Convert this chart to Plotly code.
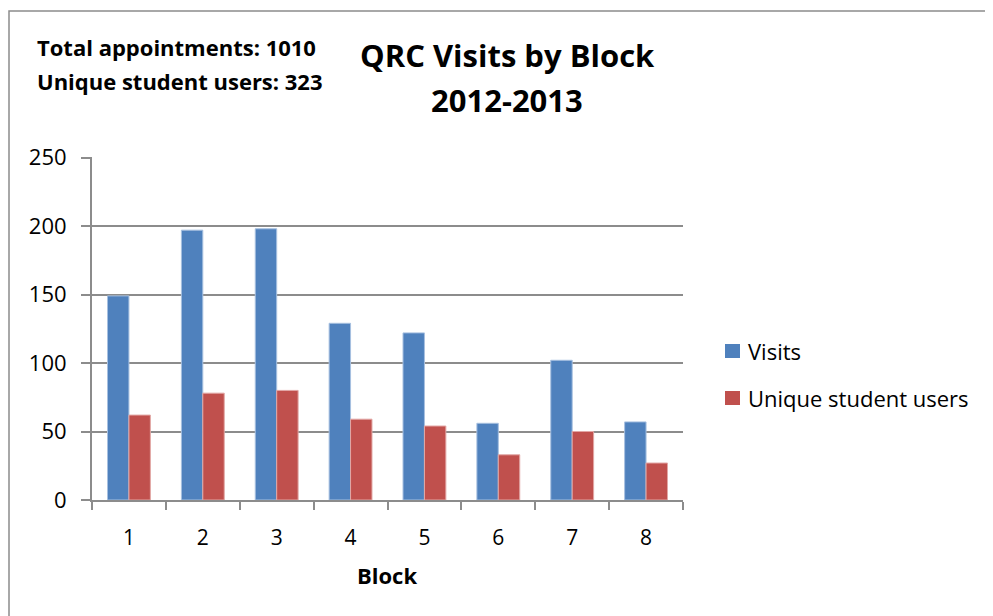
import plotly.graph_objects as go

blocks = ["1", "2", "3", "4", "5", "6", "7", "8"]
visits = [149, 197, 198, 129, 122, 56, 102, 57]
unique_users = [62, 78, 80, 59, 54, 33, 50, 27]
y_ticks = [0, 50, 100, 150, 200, 250]
series_names = ["Visits", "Unique student users"]
series_colors = ["#4F81BD", "#C0504D"]
edge_colors = ["#A7C0E0", "#E2A7A5"]

FONT = "'Open Sans', sans-serif"
GRAY = "#8C8C8C"

# plot-area geometry in page pixels (page has an 8px body margin)
PL, PR, PT, PB = 92, 683, 157, 500
PW, PH = PR - PL, PB - PT


def px(x):
    return (x - PL) / PW


def py(y):
    return (PB - y) / PH


fig = go.Figure()
for name, vals, col, edge in zip(series_names, [visits, unique_users], series_colors, edge_colors):
    fig.add_trace(go.Bar(x=blocks, y=vals, name=name, marker_color=col,
                         marker_line=dict(color=edge, width=1), showlegend=False))

annotations = [
    dict(text="<b>QRC Visits by Block</b>", x=px(507), y=py(55)),
    dict(text="<b>2012-2013</b>", x=px(507), y=py(100)),
]
for a in annotations:
    a.update(xref="paper", yref="paper", xanchor="center", yanchor="middle",
             showarrow=False, font=dict(size=31, family=FONT, color="black"))

for txt, yy in [("<b>Total appointments: 1010</b>", 47), ("<b>Unique student users: 323</b>", 81)]:
    annotations.append(dict(text=txt, x=px(35), y=py(yy), xref="paper", yref="paper",
                            xanchor="left", yanchor="middle", showarrow=False,
                            font=dict(size=22, family=FONT, color="black")))

annotations.append(dict(text="<b>Block</b>", x=px(387), y=py(575), xref="paper", yref="paper",
                        xanchor="center", yanchor="middle", showarrow=False,
                        font=dict(size=22, family=FONT, color="black")))

shapes = [dict(type="rect", xref="paper", yref="paper", x0=px(9), x1=px(1100), y0=py(700), y1=py(11),
               line=dict(color=GRAY, width=1.5), fillcolor="rgba(0,0,0,0)", layer="below")]

# custom legend
for i, (name, col) in enumerate(zip(series_names, series_colors)):
    cy = 351 + 47 * i
    shapes.append(dict(type="rect", xref="paper", yref="paper", x0=px(725), x1=px(740),
                       y0=py(cy + 7), y1=py(cy - 7), fillcolor=col, line=dict(width=0)))
    annotations.append(dict(text=name, x=px(746), y=py(cy), xref="paper", yref="paper",
                            xanchor="left", yanchor="middle", showarrow=False,
                            font=dict(size=22, family=FONT, color="black")))

fig.update_layout(
    width=985, height=608,
    margin=dict(l=PL - 8, r=985 - (PR - 8), t=PT - 8, b=608 - (PB - 8)),
    paper_bgcolor="white", plot_bgcolor="white",
    barmode="group", bargap=0.42, bargroupgap=0,
    font=dict(family=FONT, size=21, color="black"),
    showlegend=False,
    xaxis=dict(type="category", tickson="boundaries", ticks="outside", ticklen=8,
               tickcolor=GRAY, tickwidth=2, showline=True, linecolor=GRAY, linewidth=2,
               showgrid=False, tickfont=dict(size=21), ticklabelstandoff=18),
    yaxis=dict(range=[0, 250.4], tickvals=y_ticks, ticks="outside", ticklen=9,
               tickcolor=GRAY, tickwidth=2, showline=True, linecolor=GRAY, linewidth=2,
               showgrid=True, gridcolor=GRAY, gridwidth=2, zeroline=False,
               tickfont=dict(size=22), ticklabelstandoff=10),
    shapes=shapes,
    annotations=annotations,
)

fig.write_html("out.html")
